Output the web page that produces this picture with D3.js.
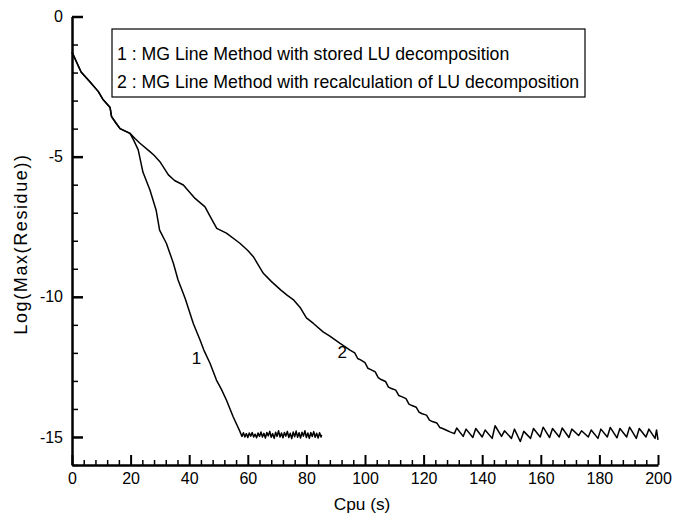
<!DOCTYPE html>
<html>
<head>
<meta charset="utf-8">
<script src="https://cdn.jsdelivr.net/npm/d3@7"></script>
<style>
  body { margin: 0; background: #fff; }
  svg { display: block; }
  text { font-family: "Liberation Sans", Arial, Helvetica, sans-serif; fill: #000; }
</style>
</head>
<body>
<svg id="chart" width="675" height="518"></svg>
<script>
// ---- data ----
const xMajorTicks = [0, 20, 40, 60, 80, 100, 120, 140, 160, 180, 200];
const yMajorTicks = [0, -5, -10, -15];
const xLabel = "Cpu (s)";
const yLabel = "Log(Max(Residue))";
const legendLines = [
  "1 : MG Line Method with stored LU decomposition",
  "2 : MG Line Method with recalculation of LU decomposition"
];

// common start of both histories
const sharedStart = [[0,-1.27],[3.1,-1.98],[6.1,-2.33],[9,-2.68],[10.5,-2.95],[11.8,-3.1],[13,-3.25],[13.5,-3.57],[15,-3.8],[16.4,-4.0],[18,-4.08],[19.8,-4.17]];

// curve 1 : stored LU decomposition
const series1 = [[21,-4.4],[22.6,-4.76],[24.2,-5.55],[26.6,-6.19],[28.7,-6.9],[29.9,-7.62],[32.2,-8.09],[34.6,-8.8],[36.2,-9.4],[38.6,-10.05],[41.4,-10.95],[43.7,-11.54],[45,-11.9],[47.1,-12.37],[49.3,-12.97],[51,-13.3],[52.7,-13.68],[55,-14.28],[57.3,-14.8],
  [58,-14.98],[58.5,-14.85],[59,-15.0],[59.5,-14.88],[60,-15.02],[60.5,-14.86],[61,-14.97],[61.5,-14.84],[62,-15.0],[62.5,-14.9],[63,-15.03],[63.5,-14.86],[64,-14.98],[64.5,-14.82],[65,-15.0],[65.5,-14.87],[66,-15.04],[66.5,-14.84],[67,-14.96],[67.5,-14.8],[68,-15.01],[68.5,-14.88],[69,-15.05],[69.5,-14.83],[70,-14.98],[70.5,-14.78],[71,-15.0],[71.5,-14.86],[72,-15.03],[72.5,-14.84],[73,-14.97],[73.5,-14.8],[74,-15.02],[74.5,-14.87],[75,-15.06],[75.5,-14.82],[76,-14.99],[76.5,-14.79],[77,-15.01],[77.5,-14.85],[78,-15.04],[78.5,-14.83],[79,-14.97],[79.5,-14.78],[80,-15.02],[80.5,-14.86],[81,-15.05],[81.5,-14.84],[82,-14.98],[82.5,-14.81],[83,-15.01],[83.5,-14.87],[84,-15.04],[84.5,-14.85],[85,-15.0],[85.2,-14.92]];

// curve 2 : recalculation of LU decomposition
const series2 = [[21.5,-4.35],[23.2,-4.52],[26.6,-4.82],[28,-4.95],[30,-5.18],[32.9,-5.65],[35,-5.85],[38,-6.01],[40,-6.25],[42,-6.49],[45.4,-6.79],[47,-7.1],[49.4,-7.56],[52.7,-7.73],[57.3,-8.09],[60,-8.35],[61.9,-8.57],[63.5,-8.85],[65.3,-9.16],[68,-9.45],[71.3,-9.76],[73.5,-9.95],[75.5,-10.1],[78,-10.4],[80,-10.75],[82.4,-10.95],[85.7,-11.25],[88,-11.4],[91.5,-11.66],
  [94.9,-11.9],[96.5,-12.0],[97.5,-12.2],[98.5,-12.25],[100,-12.35],[101,-12.55],[102,-12.6],[103.5,-12.68],[104.5,-12.88],[105.5,-12.95],[107,-13.02],[108,-13.22],[109,-13.27],[110.5,-13.33],[111.5,-13.52],[112.5,-13.56],[114,-13.63],[115,-13.83],[116,-13.88],[117.5,-13.94],[118.5,-14.12],[119.5,-14.17],[121,-14.22],[122,-14.4],[123,-14.45],[124.5,-14.5],[125.5,-14.66],[126.5,-14.7],[128,-14.77],[129,-14.82],[130.5,-14.88],
  [131.3,-14.68],[133.5,-14.98],[134.5,-14.72],[136.8,-15.02],[137.8,-14.7],[140,-15.0],[141,-14.75],[143.4,-15.05],[144.4,-14.6],[146.6,-14.98],[147.6,-14.78],[150,-15.05],[151,-14.72],[153,-15.16],[154.2,-14.8],[156.5,-15.05],[157.5,-14.7],[159.8,-15.0],[160.8,-14.65],[163,-15.02],[164,-14.7],[166.3,-15.0],[167.3,-14.68],[169.6,-15.02],[170.6,-14.72],[172.9,-14.95],[173.9,-14.78],[176.2,-15.0],[177.2,-14.75],[179.5,-15.05],[180.5,-14.72],[182.7,-15.0],[183.7,-14.66],[186,-15.03],[187,-14.7],[189.3,-15.0],[190.3,-14.65],[192.6,-15.05],[193.6,-14.7],[195.9,-15.0],[196.9,-14.72],[199,-15.05],[199.5,-14.75],[200,-15.1]];

const curveLabels = [{text: "1", x: 42.5, y: -12.4}, {text: "2", x: 92.2, y: -12.2}];

// ---- drawing ----
const svg = d3.select("#chart");
const x = d3.scaleLinear().domain([0, 200]).range([72, 658]);
const y = d3.scaleLinear().domain([-16, 0]).range([465, 16.5]);

const xMinor = d3.range(0, 201, 4).filter(v => v % 20 !== 0);
const yMinor = d3.range(-16, 1, 1).filter(v => v % 5 !== 0);

// x axis
const gx = svg.append("g").attr("transform", `translate(0,${y(-16)})`);
gx.append("g").call(d3.axisBottom(x).tickValues(xMinor).tickFormat(() => "").tickSize(-5).tickSizeOuter(0))
  .call(g => g.select(".domain").remove())
  .call(g => g.selectAll("text").remove())
  .call(g => g.selectAll("line").attr("stroke-width", 1.5));
gx.append("g").call(d3.axisBottom(x).tickValues(xMajorTicks).tickSize(-10).tickSizeOuter(0).tickPadding(8))
  .call(g => g.select(".domain").attr("stroke-width", 2.5))
  .call(g => g.selectAll("line").attr("stroke-width", 2))
  .call(g => g.selectAll("text").attr("font-size", 16).attr("font-family", "Liberation Sans, Arial, sans-serif"));

// y axis
const gy = svg.append("g").attr("transform", `translate(${x(0)},0)`);
gy.append("g").call(d3.axisLeft(y).tickValues(yMinor).tickFormat(() => "").tickSize(-6).tickSizeOuter(0))
  .call(g => g.select(".domain").remove())
  .call(g => g.selectAll("text").remove())
  .call(g => g.selectAll("line").attr("stroke-width", 1.5));
gy.append("g").call(d3.axisLeft(y).tickValues(yMajorTicks).tickSize(-11).tickSizeOuter(0).tickPadding(9).tickFormat(d => String(d)))
  .call(g => g.select(".domain").attr("stroke-width", 2.5))
  .call(g => g.selectAll("line").attr("stroke-width", 2.5))
  .call(g => g.selectAll("text").attr("font-size", 16).attr("font-family", "Liberation Sans, Arial, sans-serif"));

// lines
const line = d3.line().x(d => x(d[0])).y(d => y(d[1]));
svg.append("path").datum(sharedStart.concat(series1))
  .attr("fill", "none").attr("stroke", "#000").attr("stroke-width", 1.5).attr("stroke-linejoin", "round").attr("d", line);
svg.append("path").datum(sharedStart.concat(series2))
  .attr("fill", "none").attr("stroke", "#000").attr("stroke-width", 1.5).attr("stroke-linejoin", "round").attr("d", line);

// curve labels
svg.selectAll(".clab").data(curveLabels).join("text")
  .attr("class", "clab")
  .attr("x", d => x(d.x)).attr("y", d => y(d.y))
  .attr("text-anchor", "middle").attr("font-size", 17).text(d => d.text);

// axis titles
svg.append("text").attr("x", 362).attr("y", 510).attr("text-anchor", "middle").attr("font-size", 17.3).text(xLabel);
svg.append("text").attr("transform", "translate(27,244) rotate(-90)").attr("text-anchor", "middle")
  .attr("font-size", 18).attr("letter-spacing", 1.6).text(yLabel);

// legend
const lg = svg.append("g");
lg.append("rect").attr("x", 112).attr("y", 29).attr("width", 473).attr("height", 68)
  .attr("fill", "#fff").attr("stroke", "#000").attr("stroke-width", 1.2);
lg.selectAll("text").data(legendLines).join("text")
  .attr("x", 117).attr("y", (d, i) => 60 + i * 27.5)
  .attr("font-size", 17.7).text(d => d);
</script>
</body>
</html>
